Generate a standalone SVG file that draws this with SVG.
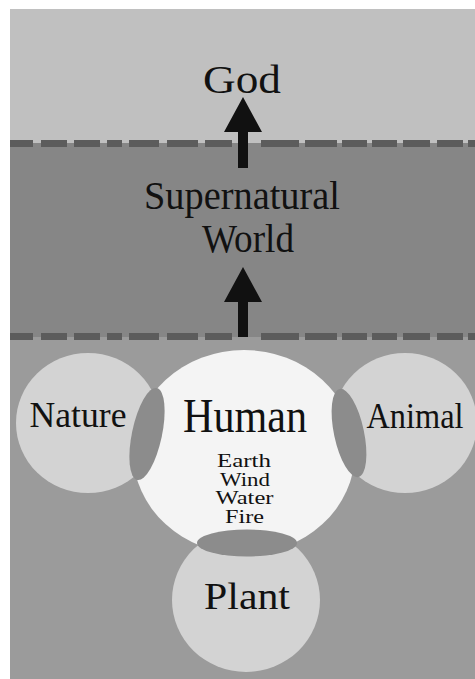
<svg xmlns="http://www.w3.org/2000/svg" width="475" height="679" viewBox="0 0 475 679">
<style>
.t{font-family:"Liberation Serif","Times New Roman",serif;fill:#111;text-anchor:middle}
.dash{stroke:#5c5c5c;stroke-width:7;fill:none}
.side{fill:#d3d3d3}
.lens{fill:#8c8c8c}
.arrow{fill:#111}
</style>
<rect x="0" y="0" width="475" height="679" fill="#ffffff"/>
<g id="bands">
<rect x="10" y="9" width="465" height="135" fill="#c0c0c0"/>
<rect x="10" y="143" width="465" height="194" fill="#868686"/>
<rect x="10" y="337" width="465" height="342" fill="#9b9b9b"/>
</g>
<g id="dividers">
<path class="dash" d="M10 143.5H33M41 143.5H67M74 143.5H100M107 143.5H122M129 143.5H159M167 143.5H198M205 143.5H232M261 143.5H299M305 143.5H337M342 143.5H367M372 143.5H397M403 143.5H430M437 143.5H463M468 143.5H475"/>
<path class="dash" d="M10 336.5H33M41 336.5H67M74 336.5H100M107 336.5H122M129 336.5H159M167 336.5H198M205 336.5H232M261 336.5H299M305 336.5H337M342 336.5H367M372 336.5H397M403 336.5H430M437 336.5H463M468 336.5H475"/>
</g>
<g id="god"><text class="t" x="242" y="93" font-size="40" textLength="78" lengthAdjust="spacingAndGlyphs">God</text></g>
<g id="supernatural">
<text class="t" x="242" y="209" font-size="40" textLength="196" lengthAdjust="spacingAndGlyphs">Supernatural</text>
<text class="t" x="248" y="252" font-size="40" textLength="92" lengthAdjust="spacingAndGlyphs">World</text>
</g>
<g id="nature">
<ellipse class="side" cx="88" cy="423" rx="72" ry="70"/>
<text class="t" x="78" y="427" font-size="36" textLength="97" lengthAdjust="spacingAndGlyphs">Nature</text>
</g>
<g id="animal">
<ellipse class="side" cx="405" cy="423" rx="72" ry="70"/>
<text class="t" x="415" y="428" font-size="36" textLength="97" lengthAdjust="spacingAndGlyphs">Animal</text>
</g>
<g id="plant">
<ellipse class="side" cx="246" cy="600" rx="74" ry="72"/>
<text class="t" x="247" y="609" font-size="38" textLength="86" lengthAdjust="spacingAndGlyphs">Plant</text>
</g>
<g id="human">
<ellipse cx="244" cy="452" rx="111" ry="102" fill="#f4f4f4"/>
<text class="t" x="245" y="432" font-size="48" textLength="124" lengthAdjust="spacingAndGlyphs">Human</text>
<text class="t" x="244" y="467" font-size="18" textLength="54" lengthAdjust="spacingAndGlyphs">Earth</text>
<text class="t" x="245" y="486" font-size="18" textLength="50" lengthAdjust="spacingAndGlyphs">Wind</text>
<text class="t" x="244.5" y="504" font-size="18" textLength="58" lengthAdjust="spacingAndGlyphs">Water</text>
<text class="t" x="244.5" y="523" font-size="18" textLength="39" lengthAdjust="spacingAndGlyphs">Fire</text>
</g>
<g id="overlaps">
<ellipse class="lens" cx="147" cy="434" rx="15" ry="47" transform="rotate(12 147 434)"/>
<ellipse class="lens" cx="349" cy="433" rx="15" ry="45" transform="rotate(-12 349 433)"/>
<ellipse class="lens" cx="247" cy="543" rx="50" ry="13.5"/>
</g>
<g id="connectors">
<path class="arrow" d="M243 97L262 132H248V168H238V132H224Z"/>
<path class="arrow" d="M243 267L262 302H248V337H238V302H224Z"/>
</g>
</svg>
